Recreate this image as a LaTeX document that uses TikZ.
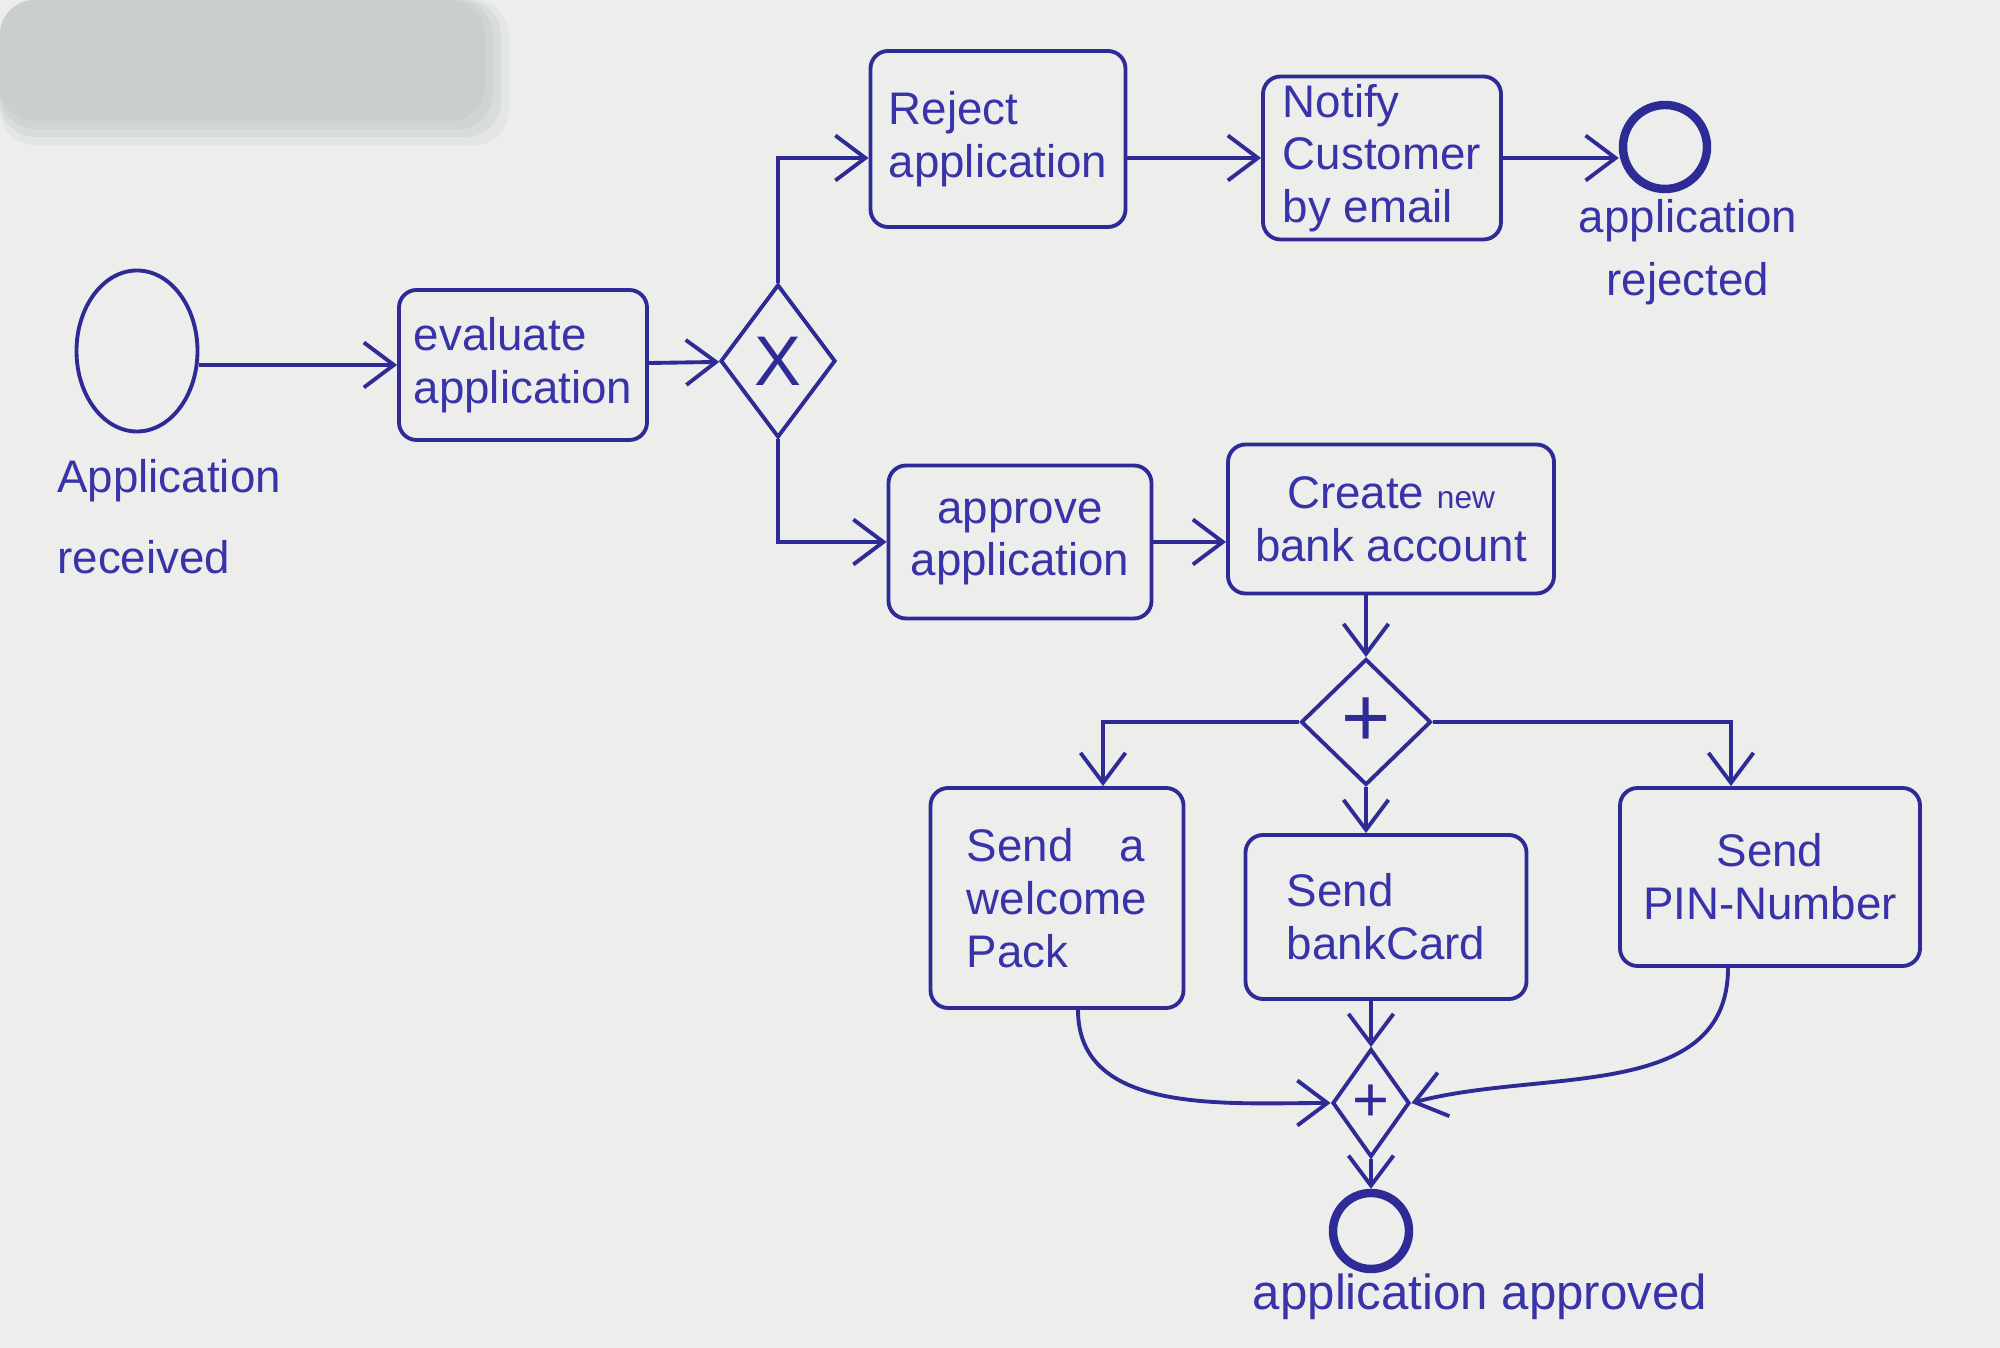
\documentclass[tikz,border=0pt]{standalone}
\usepackage{fontspec}
\setmainfont{Liberation Sans}
\usetikzlibrary{arrows.meta,positioning,shapes.geometric}
\definecolor{Ink}{HTML}{2E2A96}
\definecolor{InkText}{HTML}{3833A8}
\definecolor{Paper}{HTML}{EDEEEB}
\definecolor{Smudge}{HTML}{C9CFCC}

\begin{document}
\begin{tikzpicture}[
  task/.style={draw=Ink,line width=1.1pt,rounded corners=5pt,fill=Paper,align=left,text=InkText,font=\fontsize{13}{15}\selectfont,inner sep=2pt},
  gate/.style={draw=Ink,line width=1.1pt,diamond,inner sep=0pt,fill=Paper,text=Ink},
  startevt/.style={draw=Ink,ellipse,line width=1.1pt,minimum width=1.21cm,minimum height=1.61cm},
  endevt/.style={draw=Ink,circle,line width=2.4pt,inner sep=0pt},
  lbl/.style={text=InkText,align=center},
  flow/.style={-{Straight Barb[length=3mm,width=4.5mm]},line width=1.1pt,draw=Ink}
]
\useasboundingbox (0,0) rectangle (20,13.48);
\fill[Paper] (0,0) rectangle (20,13.48);
% blurred patch, top left
\foreach \s/\o in {0.24/0.25,0.16/0.35,0.08/0.5,0/1}
  \fill[Smudge,opacity=\o,rounded corners=10pt] (0,{12.27-\s}) rectangle ({4.85+\s},13.48);

% start and evaluation
\node[startevt] (start) at (1.37,9.97) {};
\node[lbl,align=left,anchor=west,font=\fontsize{13}{23}\selectfont] (startlbl) at (0.45,8.31) {Application\\received};
\node[task,minimum width=2.48cm,minimum height=1.50cm] (eval) at (5.23,9.83) {evaluate\\application};
\node[gate,minimum width=1.15cm,minimum height=1.53cm,font=\fontsize{20}{20}\selectfont] (xor) at (7.78,9.87) {X};

% rejected branch
\node[task,minimum width=2.55cm,minimum height=1.76cm] (reject) at (9.98,12.09) {Reject\\application};
\node[task,minimum width=2.38cm,minimum height=1.63cm] (notify) at (13.82,11.90) {Notify\\Customer\\by email};
\node[endevt,minimum size=0.84cm] (endrej) at (16.65,12.01) {};
\node[lbl,font=\fontsize{13}{18}\selectfont] (rejlbl) at (16.88,10.96) {application\\rejected};

% approved branch
\node[task,align=center,minimum width=2.63cm,minimum height=1.53cm] (approve) at (10.20,8.06) {approve\\application};
\node[task,align=center,minimum width=3.26cm,minimum height=1.49cm] (create) at (13.91,8.29) {Create {\small new}\\bank account};
\node[gate,minimum width=1.30cm,minimum height=1.26cm,font=\fontsize{24}{24}\selectfont] (split) at (13.66,6.26) {+};
\node[task,minimum width=2.53cm,minimum height=2.20cm] (welcome) at (10.57,4.50) {Send\quad a\\welcome\\Pack};
\node[task,minimum width=2.81cm,minimum height=1.64cm] (card) at (13.86,4.31) {Send\\bankCard};
\node[task,align=center,minimum width=3.00cm,minimum height=1.78cm] (pin) at (17.70,4.71) {Send\\PIN-Number};
\node[gate,minimum width=0.77cm,minimum height=1.08cm,font=\fontsize{18}{18}\selectfont] (join) at (13.71,2.45) {+};
\node[endevt,minimum size=0.76cm] (endok) at (13.71,1.17) {};
\node[lbl,font=\fontsize{14}{16}\selectfont] (oklbl) at (14.80,0.51) {application approved};

\draw[flow] (start.east |- eval.west) -- (eval.west);
\draw[flow] (eval) -- (xor);
\draw[flow] (xor.north) |- (reject.west |- notify.west);
\draw[flow] (xor.south) |- (approve.west);
\draw[flow] (reject.east |- notify.west) -- (notify.west);
\draw[flow] (notify) -- (notify -| endrej.west);
\draw[flow] (approve) -- (approve -| create.west);
\draw[flow] (create.south -| split.north) -- (split.north);
\draw[flow] (split.west) -| ([xshift=4.6mm]welcome.north);
\draw[flow] (split.south) -- (split.south |- card.north);
\draw[flow] (split.east) -| ([xshift=-3.9mm]pin.north);
\draw[flow] ([xshift=2.1mm]welcome.south) to[out=-90,in=180] (join.west);
\draw[flow] (card.south -| join.north) -- (join.north);
\draw[flow] ([xshift=-4.2mm]pin.south) to[out=-90,in=15] (join.east);
\draw[flow] (join) -- (endok);
\end{tikzpicture}
\end{document}
